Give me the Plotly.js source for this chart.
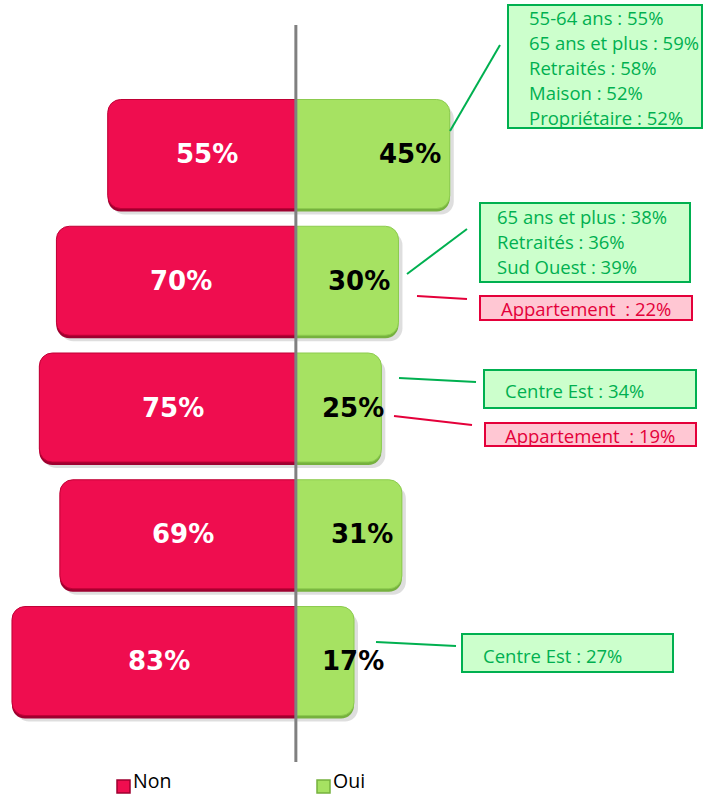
<!DOCTYPE html>
<html>
<head>
<meta charset="utf-8">
<script src="https://cdn.plot.ly/plotly-3.0.1.min.js"></script>
<style>html,body{margin:0;padding:0;background:#fff;}#chart{width:708px;height:795px;}</style>
</head>
<body>
<div id="chart"></div>
<script>
// ---- data ----
const rows = [4, 3, 2, 1, 0];            // vertical slots, top to bottom
const nonValues = [55, 70, 75, 69, 83];
const ouiValues = [45, 30, 25, 31, 17];
const seriesNames = ['Non', 'Oui'];

const callout1 = ['55-64 ans : 55%', '65 ans et plus : 59%', 'Retraités : 58%', 'Maison : 52%', 'Propriétaire : 52%'];
const callout2 = ['65 ans et plus : 38%', 'Retraités : 36%', 'Sud Ouest : 39%'];
const callout2b = ['Appartement\u00a0 : 22%'];
const callout3 = ['Centre Est : 34%'];
const callout3b = ['Appartement\u00a0 : 19%'];
const callout5 = ['Centre Est : 27%'];

// ---- layout helpers ----
const W = 708, H = 795;
const px = x => x / W;
const py = y => 1 - y / H;
const RED = '#EF0D4F', GREEN = '#A6E262';
const RED_DARK = '#9E0030', GREEN_DARK = '#76B13E';
const TXT_GREEN = '#00B050', TXT_RED = '#E4003A';
const boxFont = {family: 'Open Sans, sans-serif', size: 18.5};

const XR = [-86.5, 120.5], YR = [-1.057, 5.215];
const XU = (XR[1] - XR[0]) / W, YU = (YR[1] - YR[0]) / H;   // data units per pixel
const shiftX = (dx) => [XR[0] - dx * XU, XR[1] - dx * XU];
const shiftY = (dy) => [YR[0] + dy * YU, YR[1] + dy * YU];
const BW = 0.86;

function barPair(xa, ya, cNon, cOui, lineOn) {
  return [
    {type: 'bar', orientation: 'h', name: seriesNames[0], xaxis: xa, yaxis: ya,
      y: rows, x: nonValues.map(v => -v), width: BW, hoverinfo: 'skip', showlegend: false,
      marker: {color: cNon, cornerradius: 13, line: {width: lineOn ? 1 : 0, color: '#C00035'}}},
    {type: 'bar', orientation: 'h', name: seriesNames[1], xaxis: xa, yaxis: ya,
      y: rows, x: ouiValues, width: BW, hoverinfo: 'skip', showlegend: false,
      marker: {color: cOui, cornerradius: 13, line: {width: lineOn ? 1 : 0, color: '#8CCB4E'}}}
  ];
}

const traces = [].concat(
  barPair('x', 'y', 'rgba(0,0,0,0.13)', 'rgba(0,0,0,0.13)', false),   // soft drop shadow
  barPair('x2', 'y2', RED_DARK, GREEN_DARK, false),                   // darker bottom edge
  barPair('x3', 'y3', RED, GREEN, true)                                // bars
);

const annotations = [];
const shapes = [];

// value labels
nonValues.forEach((v, i) => {
  annotations.push({x: -v / 2 + 1.5, y: rows[i], xref: 'x3', yref: 'y3', text: v + '%', showarrow: false,
    font: {family: 'DejaVu Sans, sans-serif', size: 26, color: '#ffffff', weight: 'bold'}});
});
ouiValues.forEach((v, i) => {
  annotations.push({x: Math.max(v - 2, 26.5), y: rows[i], xref: 'x3', yref: 'y3', xanchor: 'right', text: v + '%', showarrow: false,
    font: {family: 'DejaVu Sans, sans-serif', size: 26, color: '#000000', weight: 'bold'}});
});

// center line
shapes.push({type: 'line', xref: 'x3', yref: 'paper', x0: 0, x1: 0, y0: py(25), y1: py(762),
  line: {color: '#808080', width: 3}});

function box(x0, y0, x1, y1, green) {
  shapes.push({type: 'rect', xref: 'paper', yref: 'paper', x0: px(x0), x1: px(x1), y0: py(y0), y1: py(y1),
    fillcolor: green ? '#CCFFCC' : '#FFC7D3', line: {color: green ? '#00B050' : '#E4003A', width: 2}});
}
function connector(x0, y0, x1, y1, green) {
  shapes.push({type: 'line', xref: 'paper', yref: 'paper', x0: px(x0), x1: px(x1), y0: py(y0), y1: py(y1),
    line: {color: green ? '#00B050' : '#E4003A', width: 2}});
}
function lines(list, x, yFirst, step, green, anchor) {
  list.forEach((t, k) => {
    annotations.push({xref: 'paper', yref: 'paper', x: px(x), y: py(yFirst + k * step), xanchor: anchor || 'left', yanchor: 'middle',
      text: t, showarrow: false, font: Object.assign({}, boxFont, {color: green ? TXT_GREEN : TXT_RED})});
  });
}

// callout 1
box(508, 5, 702, 128, true);
connector(450, 131, 500, 45, true);
lines(callout1, 527, 18, 25, true);
// callout 2
box(480, 203, 690, 282, true);
connector(407, 274, 467, 229, true);
lines(callout2, 495, 217, 25, true);
box(480, 296, 692, 320, false);
connector(417, 296, 467, 299, false);
lines(callout2b, 586, 308, 25, false, 'center');
// callout 3
box(484, 370, 696, 408, true);
connector(399, 378, 476, 382, true);
lines(callout3, 503, 390, 25, true);
box(485, 423, 696, 446, false);
connector(394, 416, 472, 425, false);
lines(callout3b, 590, 435, 25, false, 'center');
// callout 5
box(462, 634, 673, 672, true);
connector(376, 642, 456, 646, true);
lines(callout5, 481, 655, 25, true);

// legend (drawn by hand to match the square markers and spacing)
const legendColors = [[RED, RED_DARK], [GREEN, GREEN_DARK]];
const legendX = [117, 317];
seriesNames.forEach((n, k) => {
  shapes.push({type: 'rect', xref: 'paper', yref: 'paper', x0: px(legendX[k]), x1: px(legendX[k] + 13),
    y0: py(780), y1: py(793), fillcolor: legendColors[k][0], line: {color: legendColors[k][1], width: 1.5}});
  annotations.push({xref: 'paper', yref: 'paper', x: px(legendX[k] + 15), y: py(795), xanchor: 'left', yanchor: 'bottom',
    text: n, showarrow: false, borderpad: 0,
    font: {family: 'Open Sans, sans-serif', size: 19.5, color: '#000'}});
});

const axX = {visible: false, fixedrange: true};
const layout = {
  width: W, height: H,
  margin: {l: 0, r: 0, t: 0, b: 0, autoexpand: false},
  paper_bgcolor: '#ffffff', plot_bgcolor: '#ffffff',
  barmode: 'relative',
  showlegend: false,
  xaxis: Object.assign({range: shiftX(4)}, axX),
  yaxis: Object.assign({range: shiftY(6)}, axX),
  xaxis2: Object.assign({range: XR, overlaying: 'x'}, axX),
  yaxis2: Object.assign({range: shiftY(3), overlaying: 'y'}, axX),
  xaxis3: Object.assign({range: XR, overlaying: 'x'}, axX),
  yaxis3: Object.assign({range: YR, overlaying: 'y'}, axX),
  annotations: annotations,
  shapes: shapes
};

Plotly.newPlot('chart', traces, layout, {staticPlot: true, displayModeBar: false});
</script>
</body>
</html>
